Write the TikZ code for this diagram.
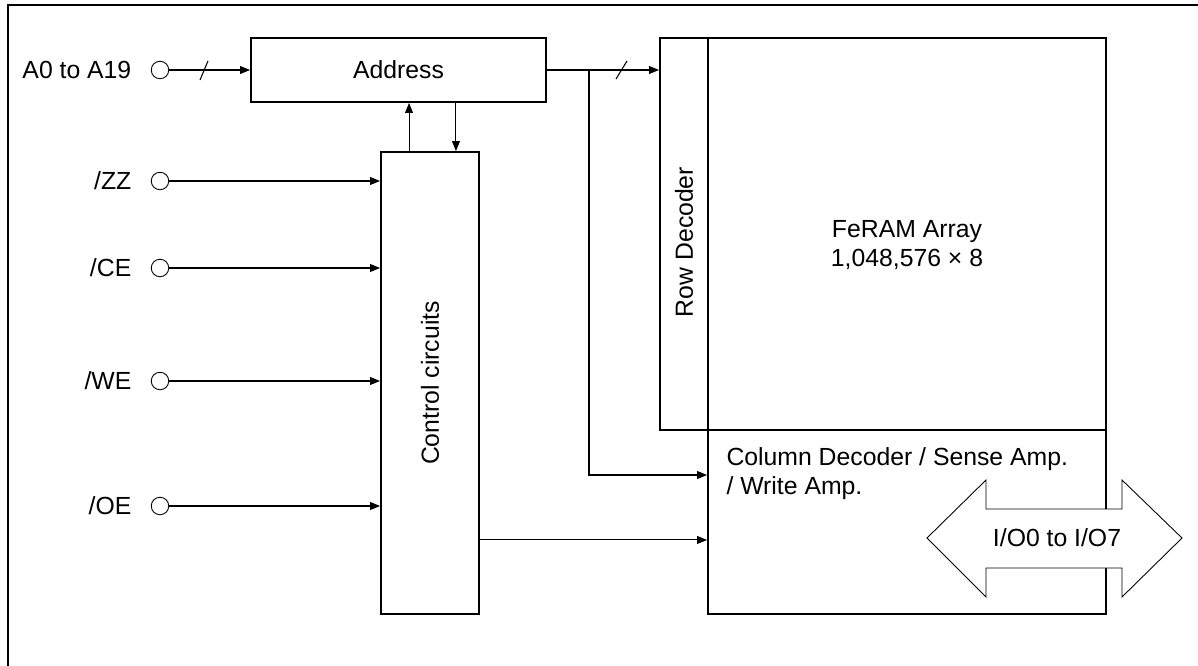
\documentclass[tikz,border=0pt]{standalone}
\usepackage{fontspec}
\setmainfont{Liberation Sans}
\usetikzlibrary{arrows.meta,positioning}

\begin{document}
\begin{tikzpicture}[x=0.02cm,y=-0.02cm,>={Triangle[length=5.7pt,width=4.5pt]},
  font=\fontsize{14.1}{16.5}\selectfont,line width=0.6pt,
  block/.style={draw,line width=1.1pt,inner sep=0pt},
  port/.style={draw,circle,line width=0.5pt,minimum size=0.35cm,inner sep=0pt},
  sig/.style={left=0.38cm of #1,inner sep=0pt}]

\useasboundingbox (0,0) rectangle (1198,666);
\draw[line width=1.2pt] (8,666) -- (8,5) -- (1200,5);

% blocks
\node[block,minimum width=5.9cm,minimum height=1.28cm] (addr) at (398.5,70) {Address};
\node[block,minimum width=1.96cm,minimum height=9.24cm] (ctrl) at (430,383) {};
\node[rotate=90] (ctrltext) at (ctrl.center) {Control circuits};
\node[block,minimum width=0.96cm,minimum height=7.84cm] (rowdec) at (684,234) {};
\node[rotate=90] (rowtext) at (684,242) {Row Decoder};
\node[block,minimum width=7.96cm,minimum height=7.84cm] (array) at (907,234) {};
\node[align=center] (arraytext) at (907,245) {FeRAM Array\\1,048,576 × 8};
\node[block,minimum width=7.96cm,minimum height=3.68cm] (col) at (907,522) {};
\node[anchor=north west,align=left,inner sep=0pt] (coltext) at (726,447)
  {Column Decoder / Sense Amp.\\/ Write Amp.};

% inputs
\node[port] (a0) at (160,70) {};
\node[port] (zz) at (160,181) {};
\node[port] (ce) at (160,268) {};
\node[port] (we) at (160,381) {};
\node[port] (oe) at (160,506) {};
\node[sig=a0] (a0text) {A0 to A19};
\node[sig=zz] (zztext) {/ZZ};
\node[sig=ce] (cetext) {/CE};
\node[sig=we] (wetext) {/WE};
\node[sig=oe] (oetext) {/OE};

\coordinate (tap) at (589,70);

\draw[->] (a0) -- (addr.west);
\draw (200,80) -- (208,61);
\draw[->] (zz) -- (zz -| ctrl.west);
\draw[->] (ce) -- (ce -| ctrl.west);
\draw[->] (we) -- (we -| ctrl.west);
\draw[->] (oe) -- (oe -| ctrl.west);
\draw[->] ([xshift=0.58cm]ctrl.north west) -- ([xshift=0.58cm]ctrl.north west |- addr.south);
\draw[->] ([xshift=-0.48cm]ctrl.north east |- addr.south) -- ([xshift=-0.48cm]ctrl.north east);
\draw[->] (addr.east) -- (addr.east -| rowdec.west);
\draw (616,79) -- (627,61);
\draw[->] (tap) |- ([yshift=0.94cm]col.west);
\draw[->] ([yshift=-3.14cm]ctrl.east) -- ([yshift=-3.14cm]ctrl.east -| col.west);

% data bus
\draw[fill=white,line width=0.5pt] (927,538) -- (986,480) -- (986,509) -- (1122,509)
  -- (1122,480) -- (1182,538) -- (1122,597) -- (1122,568) -- (986,568) -- (986,597) -- cycle;
\node (io) at (1057,538) {I/O0 to I/O7};
\end{tikzpicture}
\end{document}
